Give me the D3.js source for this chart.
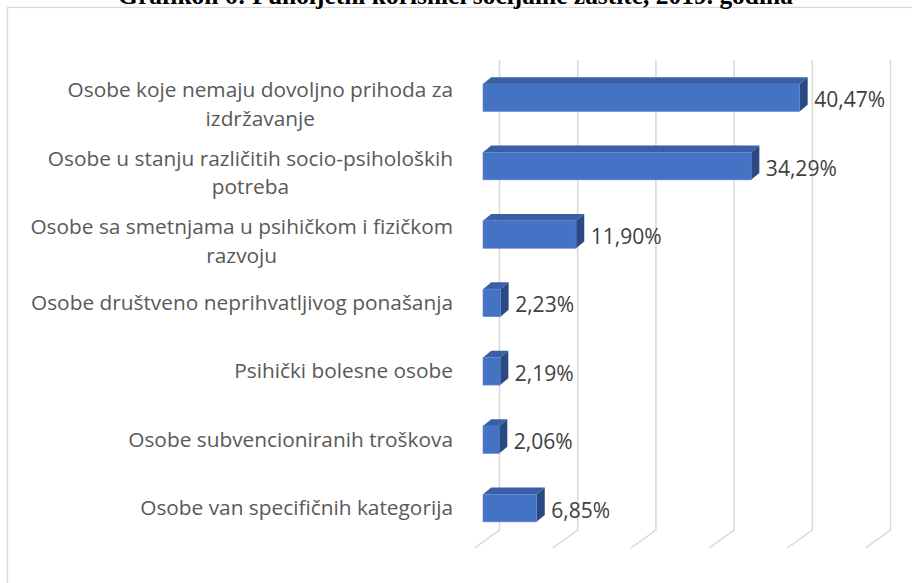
<!DOCTYPE html>
<html>
<head>
<meta charset="utf-8">
<script src="https://cdn.jsdelivr.net/npm/d3@7"></script>
<style>
  html, body { margin: 0; padding: 0; background: #ffffff; }
  svg { display: block; }
</style>
</head>
<body>
<svg id="chart" width="912" height="583"></svg>
<script>
// ---- data ----
const title = "Grafikon 6: Punoljetni korisnici socijalne zaštite, 2019. godina";
const categories = [
  "Osobe koje nemaju dovoljno prihoda za izdržavanje",
  "Osobe u stanju različitih socio-psiholoških potreba",
  "Osobe sa smetnjama u psihičkom i fizičkom razvoju",
  "Osobe društveno neprihvatljivog ponašanja",
  "Psihički bolesne osobe",
  "Osobe subvencioniranih troškova",
  "Osobe van specifičnih kategorija"
];
const values = [40.47, 34.29, 11.90, 2.23, 2.19, 2.06, 6.85];
const valueLabels = ["40,47%", "34,29%", "11,90%", "2,23%", "2,19%", "2,06%", "6,85%"];
const gridTicks = [0, 10, 20, 30, 40, 50];

// ---- layout ----
const svg = d3.select("#chart");
const fontFamily = "'Open Sans', 'Noto Sans', sans-serif";

// frame
svg.append("rect")
  .attr("x", 7.5).attr("y", 7.5)
  .attr("width", 940).attr("height", 620)
  .attr("fill", "#ffffff")
  .attr("stroke", "#d9d9d9").attr("stroke-width", 1.3);

// title (partially clipped at top, as in the reference)
const t = svg.append("text")
  .attr("x", 455.5).attr("y", 4)
  .attr("text-anchor", "middle")
  .style("font-family", "'Liberation Serif', 'Times New Roman', serif")
  .style("font-weight", "bold")
  .style("font-size", "20px")
  .attr("fill", "#000000")
  .text(title);
{
  const w = t.node().getComputedTextLength();
  t.style("font-size", (20 * 675 / w).toFixed(2) + "px");
}

const x = d3.scaleLinear().domain([0, 50]).range([483, 874]);
const y = d3.scaleBand().domain(categories)
  .range([63.5, 542.3]).paddingInner(0.598).paddingOuter(0.299);

const depthX = 8.2, depthY = -6.8;     // bar 3D depth offset
const wallShift = 16.5;                 // gridline wall offset behind front plane
const gridTop = 60, gridBottom = 530;
const floorDX = -25, floorDY = 18;

// gridlines (back wall + floor)
const grid = svg.append("g");
gridTicks.forEach(tk => {
  const gx = x(tk) + wallShift;
  grid.append("path")
    .attr("d", `M${gx},${gridTop} L${gx},${gridBottom} L${gx + floorDX},${gridBottom + floorDY}`)
    .attr("fill", "none")
    .attr("stroke", "#d9d9d9")
    .attr("stroke-width", 1.5);
});

// bars
const bars = svg.append("g");
categories.forEach((c, i) => {
  const x0 = x(0), x1 = x(values[i]);
  const top = y(c), bh = y.bandwidth(), bot = top + bh;
  bars.append("path")
    .attr("d", `M${x0},${top} L${x0 + depthX},${top + depthY} L${x1 + depthX},${top + depthY} L${x1},${top} Z`)
    .attr("fill", "#3A5FA6");
  bars.append("path")
    .attr("d", `M${x1},${top} L${x1 + depthX},${top + depthY} L${x1 + depthX},${bot + depthY} L${x1},${bot} Z`)
    .attr("fill", "#2B4A84");
  bars.append("rect")
    .attr("x", x0).attr("y", top)
    .attr("width", x1 - x0).attr("height", bh)
    .attr("fill", "#4472C4")
    .attr("stroke", "#5a86d0").attr("stroke-width", 0.6);
});

// category labels
const labG = svg.append("g")
  .style("font-family", fontFamily)
  .attr("fill", "#595959");
let catSize = 18;
{
  const probe = labG.append("text").style("font-size", "18px").text(categories[3]);
  const w = probe.node().getComputedTextLength();
  catSize = 18 * 422 / w;
  probe.remove();
}
labG.style("font-size", catSize.toFixed(2) + "px");

function measure(str) {
  const p = labG.append("text").text(str);
  const w = p.node().getComputedTextLength();
  p.remove();
  return w;
}
function wrap(str, maxW) {
  const words = str.split(" ");
  const lines = [];
  let cur = "";
  words.forEach(wd => {
    const test = cur ? cur + " " + wd : wd;
    if (measure(test) > maxW && cur) { lines.push(cur); cur = wd; }
    else cur = test;
  });
  if (cur) lines.push(cur);
  return lines;
}
const labelRight = 453;
categories.forEach((c, i) => {
  const cy = y(c) + y.bandwidth() / 2;
  const lines = wrap(c, 440);
  if (lines.length === 1) {
    labG.append("text")
      .attr("x", labelRight).attr("y", cy + 7)
      .attr("text-anchor", "end")
      .text(lines[0]);
  } else {
    const maxW = d3.max(lines, measure);
    const cx = labelRight - maxW / 2;
    lines.forEach((ln, k) => {
      labG.append("text")
        .attr("x", cx).attr("y", cy - 0.5 + k * 28.5)
        .attr("text-anchor", "middle")
        .text(ln);
    });
  }
});

// value labels
const valG = svg.append("g")
  .style("font-family", fontFamily)
  .attr("fill", "#404040");
let valSize = 20;
{
  const probe = valG.append("text").style("font-size", "20px").text(valueLabels[0]);
  const w = probe.node().getComputedTextLength();
  valSize = 20 * 71 / w;
  probe.remove();
}
valG.style("font-size", valSize.toFixed(2) + "px");
categories.forEach((c, i) => {
  const cy = y(c) + y.bandwidth() / 2;
  valG.append("text")
    .attr("x", x(values[i]) + depthX + 6.5)
    .attr("y", cy + 9.5)
    .text(valueLabels[i]);
});
</script>
</body>
</html>
